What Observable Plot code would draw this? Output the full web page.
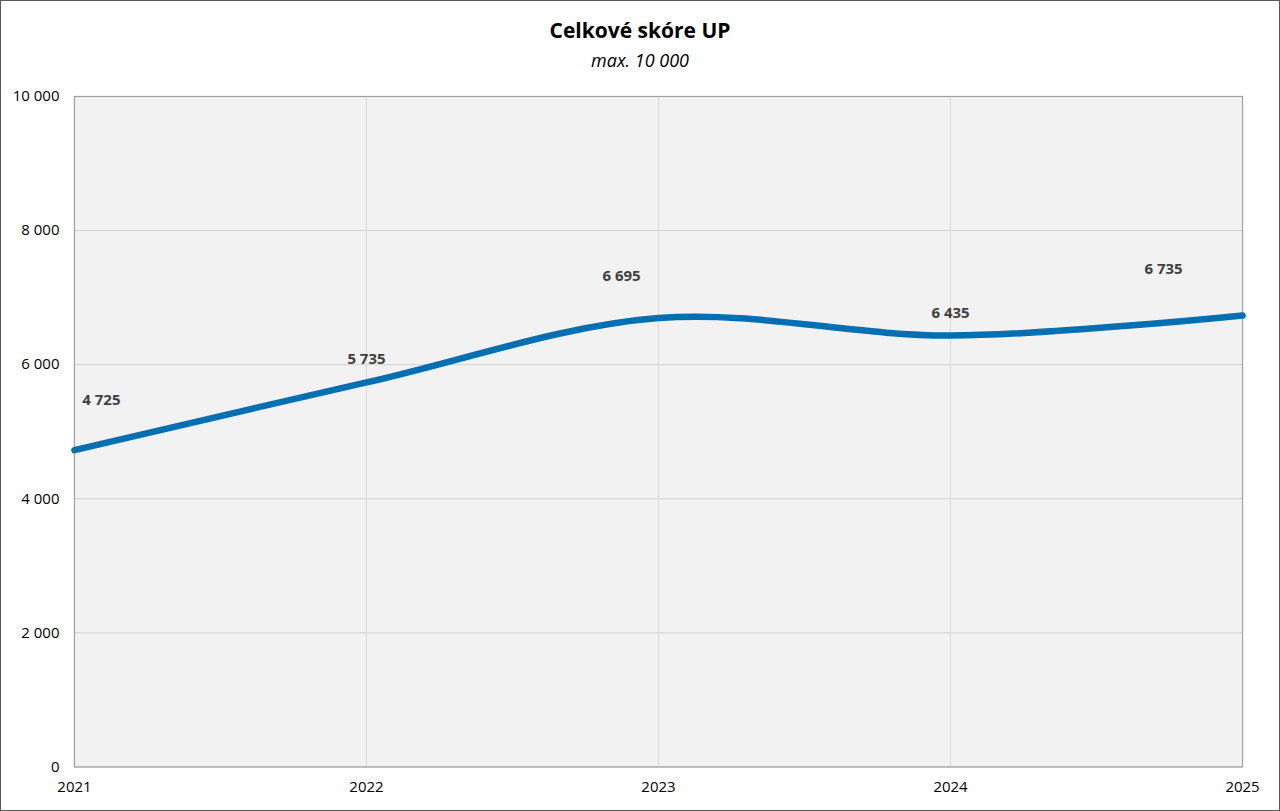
<!DOCTYPE html>
<html>
<head>
<meta charset="utf-8">
<script src="https://cdn.jsdelivr.net/npm/d3@7"></script>
<script src="https://cdn.jsdelivr.net/npm/@observablehq/plot@0.6"></script>
<style>
  html, body { margin: 0; padding: 0; background: #fff; }
  #wrap { position: relative; width: 1280px; height: 811px; box-sizing: border-box; border: 1px solid #595959; overflow: hidden; font-family: "Open Sans", sans-serif; }
  #title { position: absolute; left: 0; width: 100%; top: 15px; text-align: center; font-size: 21px; font-weight: bold; color: #000; }
  #subtitle { position: absolute; left: 0; width: 100%; top: 47px; text-align: center; font-size: 18px; font-style: italic; color: #000; }
  #chart { position: absolute; left: -1px; top: 79px; }
</style>
</head>
<body>
<div id="wrap">
  <div id="title">Celkové skóre UP</div>
  <div id="subtitle">max. 10 000</div>
  <div id="chart"></div>
</div>
<script>
const years = [2021, 2022, 2023, 2024, 2025];
const scores = [4725, 5735, 6695, 6435, 6735];
const yTicks = [0, 2000, 4000, 6000, 8000, 10000];

const data = years.map((y, i) => ({year: y, score: scores[i]}));
const fmt = v => d3.format(",")(v).replace(/,/g, " ");

// label offsets (styling, not data)
const labelOffsets = [[27, -50], [0, -23], [-37, -42], [0, -22], [-79, -46]];

const chart = Plot.plot({
  width: 1280,
  height: 731,
  marginTop: 16,
  marginBottom: 44,
  marginLeft: 74,
  marginRight: 37,
  style: { fontFamily: "Open Sans, sans-serif", fontSize: "15px", color: "#000", background: "transparent" },
  x: { domain: [2021, 2025], ticks: years, tickFormat: d => String(d), tickSize: 0, tickPadding: 14, label: null },
  y: { domain: [0, 10000], ticks: yTicks, tickFormat: fmt, tickSize: 0, tickPadding: 15, label: null },
  marks: [
    Plot.rect([0], { x1: 2021, x2: 2025, y1: 0, y2: 10000, fill: "#f2f2f2" }),
    Plot.gridY(yTicks, { stroke: "#d0d0d0", strokeOpacity: 1, strokeWidth: 1 }),
    Plot.gridX(years, { stroke: "#d9d9d9", strokeOpacity: 1, strokeWidth: 1 }),
    Plot.frame({ stroke: "#a0a0a0", strokeWidth: 1.2 }),
    Plot.line(data, { x: "year", y: "score", curve: "catmull-rom", stroke: "#0070b2", strokeWidth: 6.5 }),
    ...data.map((d, i) => Plot.text([d], {
      x: "year", y: "score", text: r => fmt(r.score),
      dx: labelOffsets[i][0], dy: labelOffsets[i][1],
      fill: "#404040", fontWeight: "bold", fontSize: 15
    }))
  ]
});
document.getElementById("chart").appendChild(chart);
</script>
</body>
</html>
